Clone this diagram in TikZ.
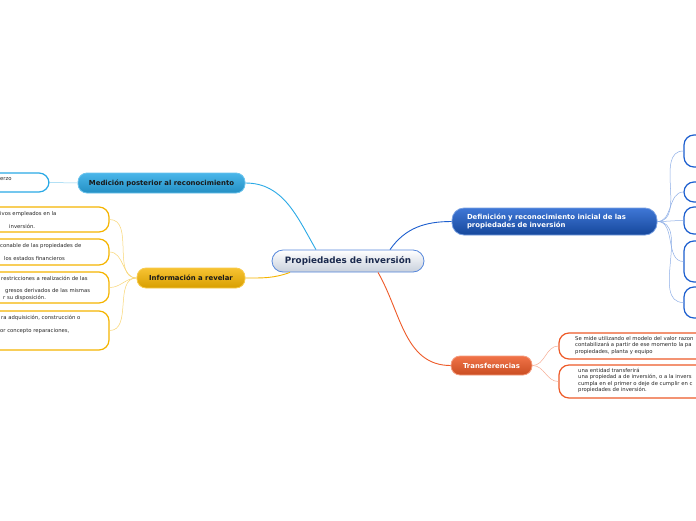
\documentclass[tikz,border=0pt]{standalone}
\usepackage{fontspec}
\setmainfont{DejaVu Sans}
\usetikzlibrary{positioning}
\definecolor{medcol}{HTML}{2AA9E6}
\definecolor{infocol}{HTML}{F5B400}
\definecolor{defcol}{HTML}{1D5FCF}
\definecolor{transcol}{HTML}{EE5A28}
\definecolor{navy}{HTML}{1B2A4E}
\definecolor{ctrgray}{HTML}{C8D0DC}
\tikzset{
  topic/.style    = {draw, rounded corners=9pt, line width=0.8pt, inner sep=0pt,
                     font=\fontsize{6.9}{8.4}\selectfont\bfseries},
  leaf/.style     = {draw, rounded corners=10pt, line width=1.2pt, inner sep=0pt, fill=white},
  leaftext/.style = {anchor=north west, inner sep=0pt, align=left, text=black!85,
                     font=\fontsize{5.3}{6.5}\selectfont},
  link/.style     = {line width=0.9pt},
  twig/.style     = {line width=0.5pt}
}

\begin{document}
\begin{tikzpicture}[x=1pt, y=-1pt]
  \useasboundingbox (0,0) rectangle (696,520);
  \fill[white] (0,0) rectangle (696,520);
  \clip (0,0) rectangle (696,520);

  % central topic
  \node[topic, minimum width=152pt, minimum height=22pt, rounded corners=11pt,
        top color=white, bottom color=ctrgray, draw=defcol!75,
        text=navy, font=\fontsize{8.8}{10}\selectfont\bfseries]
        (ctr) at (348,261) {Propiedades de inversión};

  % main topics
  \node[topic, minimum width=167pt, minimum height=20pt, top color=medcol!85!white,
        bottom color=medcol!85!black, draw=medcol!70!white, text=black!90]
        (med) at (161.5,183) {Medición posterior al reconocimiento};
  \node[topic, minimum width=108pt, minimum height=20pt, top color=infocol!80!white,
        bottom color=infocol!88!black, draw=infocol!70!white, text=black!90]
        (info) at (191,278) {Información a revelar};
  \node[topic, minimum width=205pt, minimum height=27pt, rounded corners=12pt,
        top color=defcol!85!white, bottom color=defcol!75!black, draw=defcol!60!white,
        text=white, align=left, text width=175pt]
        (def) at (554.5,221.5) {Definición y reconocimiento inicial de las\\propiedades de inversión};
  \node[topic, minimum width=81pt, minimum height=19pt, top color=transcol!85!white,
        bottom color=transcol!85!black, draw=transcol!60!white, text=white]
        (trans) at (491.5,365.5) {Transferencias};

  % leaves
  \node[leaf, draw=medcol, minimum width=89pt, minimum height=19pt] (m1) at (4.5,182.5) {};
  \node[leaftext] (m1t) at (0,177.5) {erzo};

  \node[leaf, draw=infocol, minimum width=129pt, minimum height=25pt] (i1) at (44.5,219.5) {};
  \node[leaf, draw=infocol, minimum width=129pt, minimum height=26pt] (i2) at (44.5,252) {};
  \node[leaf, draw=infocol, minimum width=129pt, minimum height=31pt] (i3) at (44.5,287.5) {};
  \node[leaf, draw=infocol, minimum width=129pt, minimum height=39pt] (i4) at (44.5,330.5) {};
  \node[leaftext] (i1t) at (0,211) {ivos empleados en la\\[6.5pt]\hspace*{9pt}inversión.};
  \node[leaftext] (i2t) at (0,243) {conable de las propiedades de\\[6.5pt]\hspace*{4pt}los estados financieros};
  \node[leaftext] (i3t) at (0,276) {\hspace*{1pt}restricciones a realización de las\\[6pt]%
    \hspace*{5pt}gresos derivados de las mismas\\\hspace*{3pt}r su disposición.};
  \node[leaftext] (i4t) at (0,315) {\hspace*{1pt}ra adquisición, construcción o\\[6.5pt]or concepto reparaciones,};

  \node[leaf, draw=defcol, minimum width=80pt, minimum height=32pt] (d1) at (724,151) {};
  \node[leaf, draw=defcol, minimum width=80pt, minimum height=20pt] (d2) at (724,192) {};
  \node[leaf, draw=defcol, minimum width=80pt, minimum height=27pt] (d3) at (724,220.5) {};
  \node[leaf, draw=defcol, minimum width=80pt, minimum height=41pt] (d4) at (724,261.5) {};
  \node[leaf, draw=defcol, minimum width=80pt, minimum height=31pt] (d5) at (724,302.5) {};

  \node[leaf, draw=transcol, minimum width=241pt, minimum height=26pt] (t1) at (679.5,346) {};
  \node[leaf, draw=transcol, minimum width=241pt, minimum height=33pt] (t2) at (679.5,381.5) {};
  \node[leaftext] (t1t) at (575,336) {Se mide utilizando el modelo del valor razon\\contabilizará a partir de ese momento la pa\\propiedades, planta y equipo};
  \node[leaftext] (t2t) at (578,368) {una entidad transferirá\\una propiedad a de inversión, o a la invers\\cumpla en el primer o deje de cumplir en c\\propiedades de inversión.};

  % links from the central topic
  \draw[link, medcol] ([xshift=-32pt]ctr.north) to[out=120, in=0] (med.east);
  \draw[link, infocol] ([xshift=-58pt]ctr.south) to[out=200, in=0] (info.east);
  \draw[link, defcol] ([xshift=42pt]ctr.north) to[out=55, in=180] (def.west);
  \draw[link, transcol] ([xshift=30pt]ctr.south) to[out=-60, in=180] (trans.west);

  % twigs to the leaves
  \draw[twig, medcol!55] (med.west) -- (m1.east);
  \foreach \l in {i1,i2,i3,i4}
    \draw[twig, infocol!55] (info.west) to[out=180, in=0] (\l.east);
  \foreach \l in {d1,d2,d3,d4,d5}
    \draw[twig, defcol!50] (def.east) to[out=0, in=180] (\l.west);
  \foreach \l in {t1,t2}
    \draw[twig, transcol!50] (trans.east) to[out=0, in=180] (\l.west);
\end{tikzpicture}
\end{document}
